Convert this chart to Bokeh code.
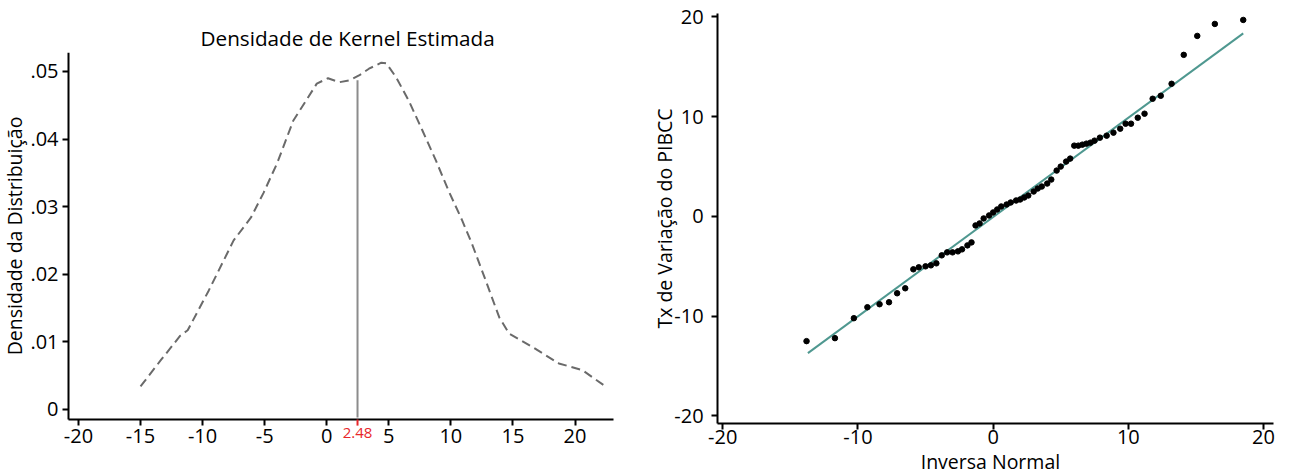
from bokeh.plotting import figure
from bokeh.layouts import row
from bokeh.models import FixedTicker, CustomJSTickFormatter, Label, Arrow, Range1d
from bokeh.embed import file_html
from bokeh.resources import INLINE

FONT = "Open Sans"
TICK_FS = "20px"
LABEL_FS = "19.5px"

# ---- Left panel: kernel density ----
kde_x = [-15.0, -13.4, -11.8, -11.2, -9.5, -7.5, -6.1, -5.1, -4.0, -2.7, -0.8, 0.1, 1.0, 1.85,
         2.6, 3.4, 4.4, 4.8, 5.6, 6.6, 7.7, 8.8, 9.8, 10.9, 11.7, 12.8, 13.9, 14.7, 16.6,
         18.7, 20.6, 22.3]
kde_y = [0.0034, 0.0072, 0.0109, 0.0117, 0.0176, 0.0250, 0.0284, 0.0320, 0.0364, 0.0427,
         0.0482, 0.0490, 0.0484, 0.0487, 0.0494, 0.0504, 0.0513, 0.0512, 0.0491, 0.0457,
         0.0413, 0.0368, 0.0324, 0.0280, 0.0245, 0.0191, 0.0136, 0.0112, 0.0092, 0.0068,
         0.0058, 0.0036]
mean_value = 2.48
mean_density = 0.0487
left_xticks = [-20, -15, -10, -5, 0, 5, 10, 15, 20]
left_yticks = [0, 0.01, 0.02, 0.03, 0.04, 0.05]
left_xbounds = (-20.8, 23.1)
left_ybounds = (-0.0015, 0.0528)

# ---- Right panel: normal quantile plot ----
qq_x = [-13.8, -11.7, -10.3, -9.3, -8.4, -7.7, -7.1, -6.5, -5.9, -5.5, -5.0, -4.6, -4.2,
        -3.8, -3.4, -3.0, -2.6, -2.3, -1.9, -1.6, -1.3, -1.0, -0.7, -0.3, 0.0, 0.3, 0.6,
        1.0, 1.3, 1.7, 2.0, 2.3, 2.6, 3.0, 3.3, 3.6, 4.0, 4.3, 4.7, 5.0, 5.4, 5.7, 6.0,
        6.3, 6.6, 6.9, 7.2, 7.5, 7.9, 8.4, 8.9, 9.4, 9.8, 10.2, 10.7, 11.2, 11.8, 12.4,
        13.2, 14.1, 15.1, 16.4, 18.5]
qq_y = [-12.5, -12.2, -10.2, -9.1, -8.8, -8.6, -7.7, -7.2, -5.3, -5.1, -5.0, -4.9, -4.7,
        -3.9, -3.6, -3.6, -3.5, -3.3, -2.9, -2.6, -0.9, -0.7, -0.2, 0.1, 0.4, 0.7, 1.0,
        1.2, 1.4, 1.6, 1.7, 1.9, 2.1, 2.5, 2.8, 3.0, 3.3, 3.7, 4.6, 5.0, 5.5, 5.8, 7.1,
        7.1, 7.2, 7.3, 7.4, 7.6, 7.9, 8.1, 8.4, 8.8, 9.3, 9.3, 9.9, 10.3, 11.8, 12.1,
        13.3, 16.2, 18.1, 19.3, 19.7]
fit_x = [-13.7, 18.5]
fit_y = [-13.7, 18.35]
right_ticks = [-20, -10, 0, 10, 20]
right_xbounds = (-20.38, 20.74)
right_ybounds = (-20.75, 20.35)

PLAIN = CustomJSTickFormatter(code="return String(tick);")


def style(p):
    p.xgrid.visible = False
    p.ygrid.visible = False
    p.outline_line_color = None
    p.background_fill_color = "white"
    p.border_fill_color = "white"
    p.frame_align = False
    for ax in (p.xaxis[0], p.yaxis[0]):
        ax.axis_line_width = 2
        ax.axis_line_color = "black"
        ax.major_tick_line_width = 2
        ax.major_tick_line_color = "black"
        ax.major_tick_in = 0
        ax.major_tick_out = 6
        ax.minor_tick_line_color = None
        ax.major_label_text_font = FONT
        ax.major_label_text_font_size = TICK_FS
        ax.major_label_text_color = "black"
        ax.axis_label_text_font = FONT
        ax.axis_label_text_font_size = LABEL_FS
        ax.axis_label_text_font_style = "normal"
        ax.axis_label_text_color = "black"


# Left chart: frame spans the whole figure below the title; axes are fixed inside it
p1 = figure(width=648, height=475, x_range=Range1d(-26.28, 25.92), y_range=Range1d(-0.00978, 0.0528),
            output_backend="svg", toolbar_location=None, title="Densidade de Kernel Estimada",
            min_border_left=0, min_border_right=0, min_border_top=52, min_border_bottom=0)
style(p1)
p1.title.text_font = FONT
p1.title.text_font_size = "20.7px"
p1.title.text_font_style = "normal"
p1.title.text_color = "black"
p1.title.align = "left"
p1.title.offset = 200
p1.title.standoff = 2
p1.xaxis[0].ticker = FixedTicker(ticks=left_xticks)
p1.xaxis[0].formatter = PLAIN
p1.xaxis[0].fixed_location = left_ybounds[0]
p1.xaxis[0].bounds = left_xbounds
p1.xaxis[0].major_label_standoff = 3
p1.yaxis[0].ticker = FixedTicker(ticks=left_yticks)
p1.yaxis[0].fixed_location = left_xbounds[0]
p1.yaxis[0].bounds = left_ybounds
p1.yaxis[0].major_label_standoff = 4
p1.yaxis[0].formatter = CustomJSTickFormatter(
    code="return tick === 0 ? '0' : tick.toFixed(2).replace(/^0/, '');")
p1.yaxis[0].axis_label = "Densidade da Distribuição"
p1.yaxis[0].axis_label_standoff = -1

p1.line(kde_x, kde_y, line_color="#6a6a6a", line_width=2, line_dash="9 5")
p1.segment(x0=[mean_value], y0=[-0.0012], x1=[mean_value], y1=[mean_density],
           line_color="#8c8c8c", line_width=2)
p1.add_layout(Arrow(x_start=mean_value, y_start=left_ybounds[0], x_end=mean_value, y_end=-0.0024,
                    end=None, line_color="#e8262a", line_width=2))
p1.add_layout(Label(x=mean_value, y=-0.0028, text=f"{mean_value:.2f}", text_color="#e8262a",
                    text_font=FONT, text_font_size="15px", text_align="center",
                    text_baseline="top"))

# Right chart: frame spans the whole figure; axes are fixed inside it
p2 = figure(width=643, height=475, x_range=Range1d(-25.49, 22.07), y_range=Range1d(-25.97, 21.65),
            output_backend="svg", toolbar_location=None,
            min_border_left=0, min_border_right=0, min_border_top=0, min_border_bottom=0)
style(p2)
p2.xaxis[0].ticker = FixedTicker(ticks=right_ticks)
p2.xaxis[0].formatter = PLAIN
p2.xaxis[0].fixed_location = right_ybounds[0]
p2.xaxis[0].bounds = right_xbounds
p2.xaxis[0].major_label_standoff = 1
p2.yaxis[0].ticker = FixedTicker(ticks=right_ticks)
p2.yaxis[0].formatter = PLAIN
p2.yaxis[0].fixed_location = right_xbounds[0]
p2.yaxis[0].bounds = right_ybounds
p2.yaxis[0].major_label_standoff = 8
p2.yaxis[0].axis_label = "Tx de Variação do PIBCC"
p2.yaxis[0].axis_label_standoff = -7

p2.line(fit_x, fit_y, line_color="#4f9890", line_width=2)
p2.scatter(qq_x, qq_y, size=5.5, fill_color="black", line_color="black")
p2.add_layout(Label(x=-0.2, y=-23.26, text="Inversa Normal", text_font=FONT, text_font_size=LABEL_FS,
                    text_color="black", text_align="center", text_baseline="top"))

layout = row(p1, p2)
open("out.html", "w").write(file_html(layout, INLINE))
